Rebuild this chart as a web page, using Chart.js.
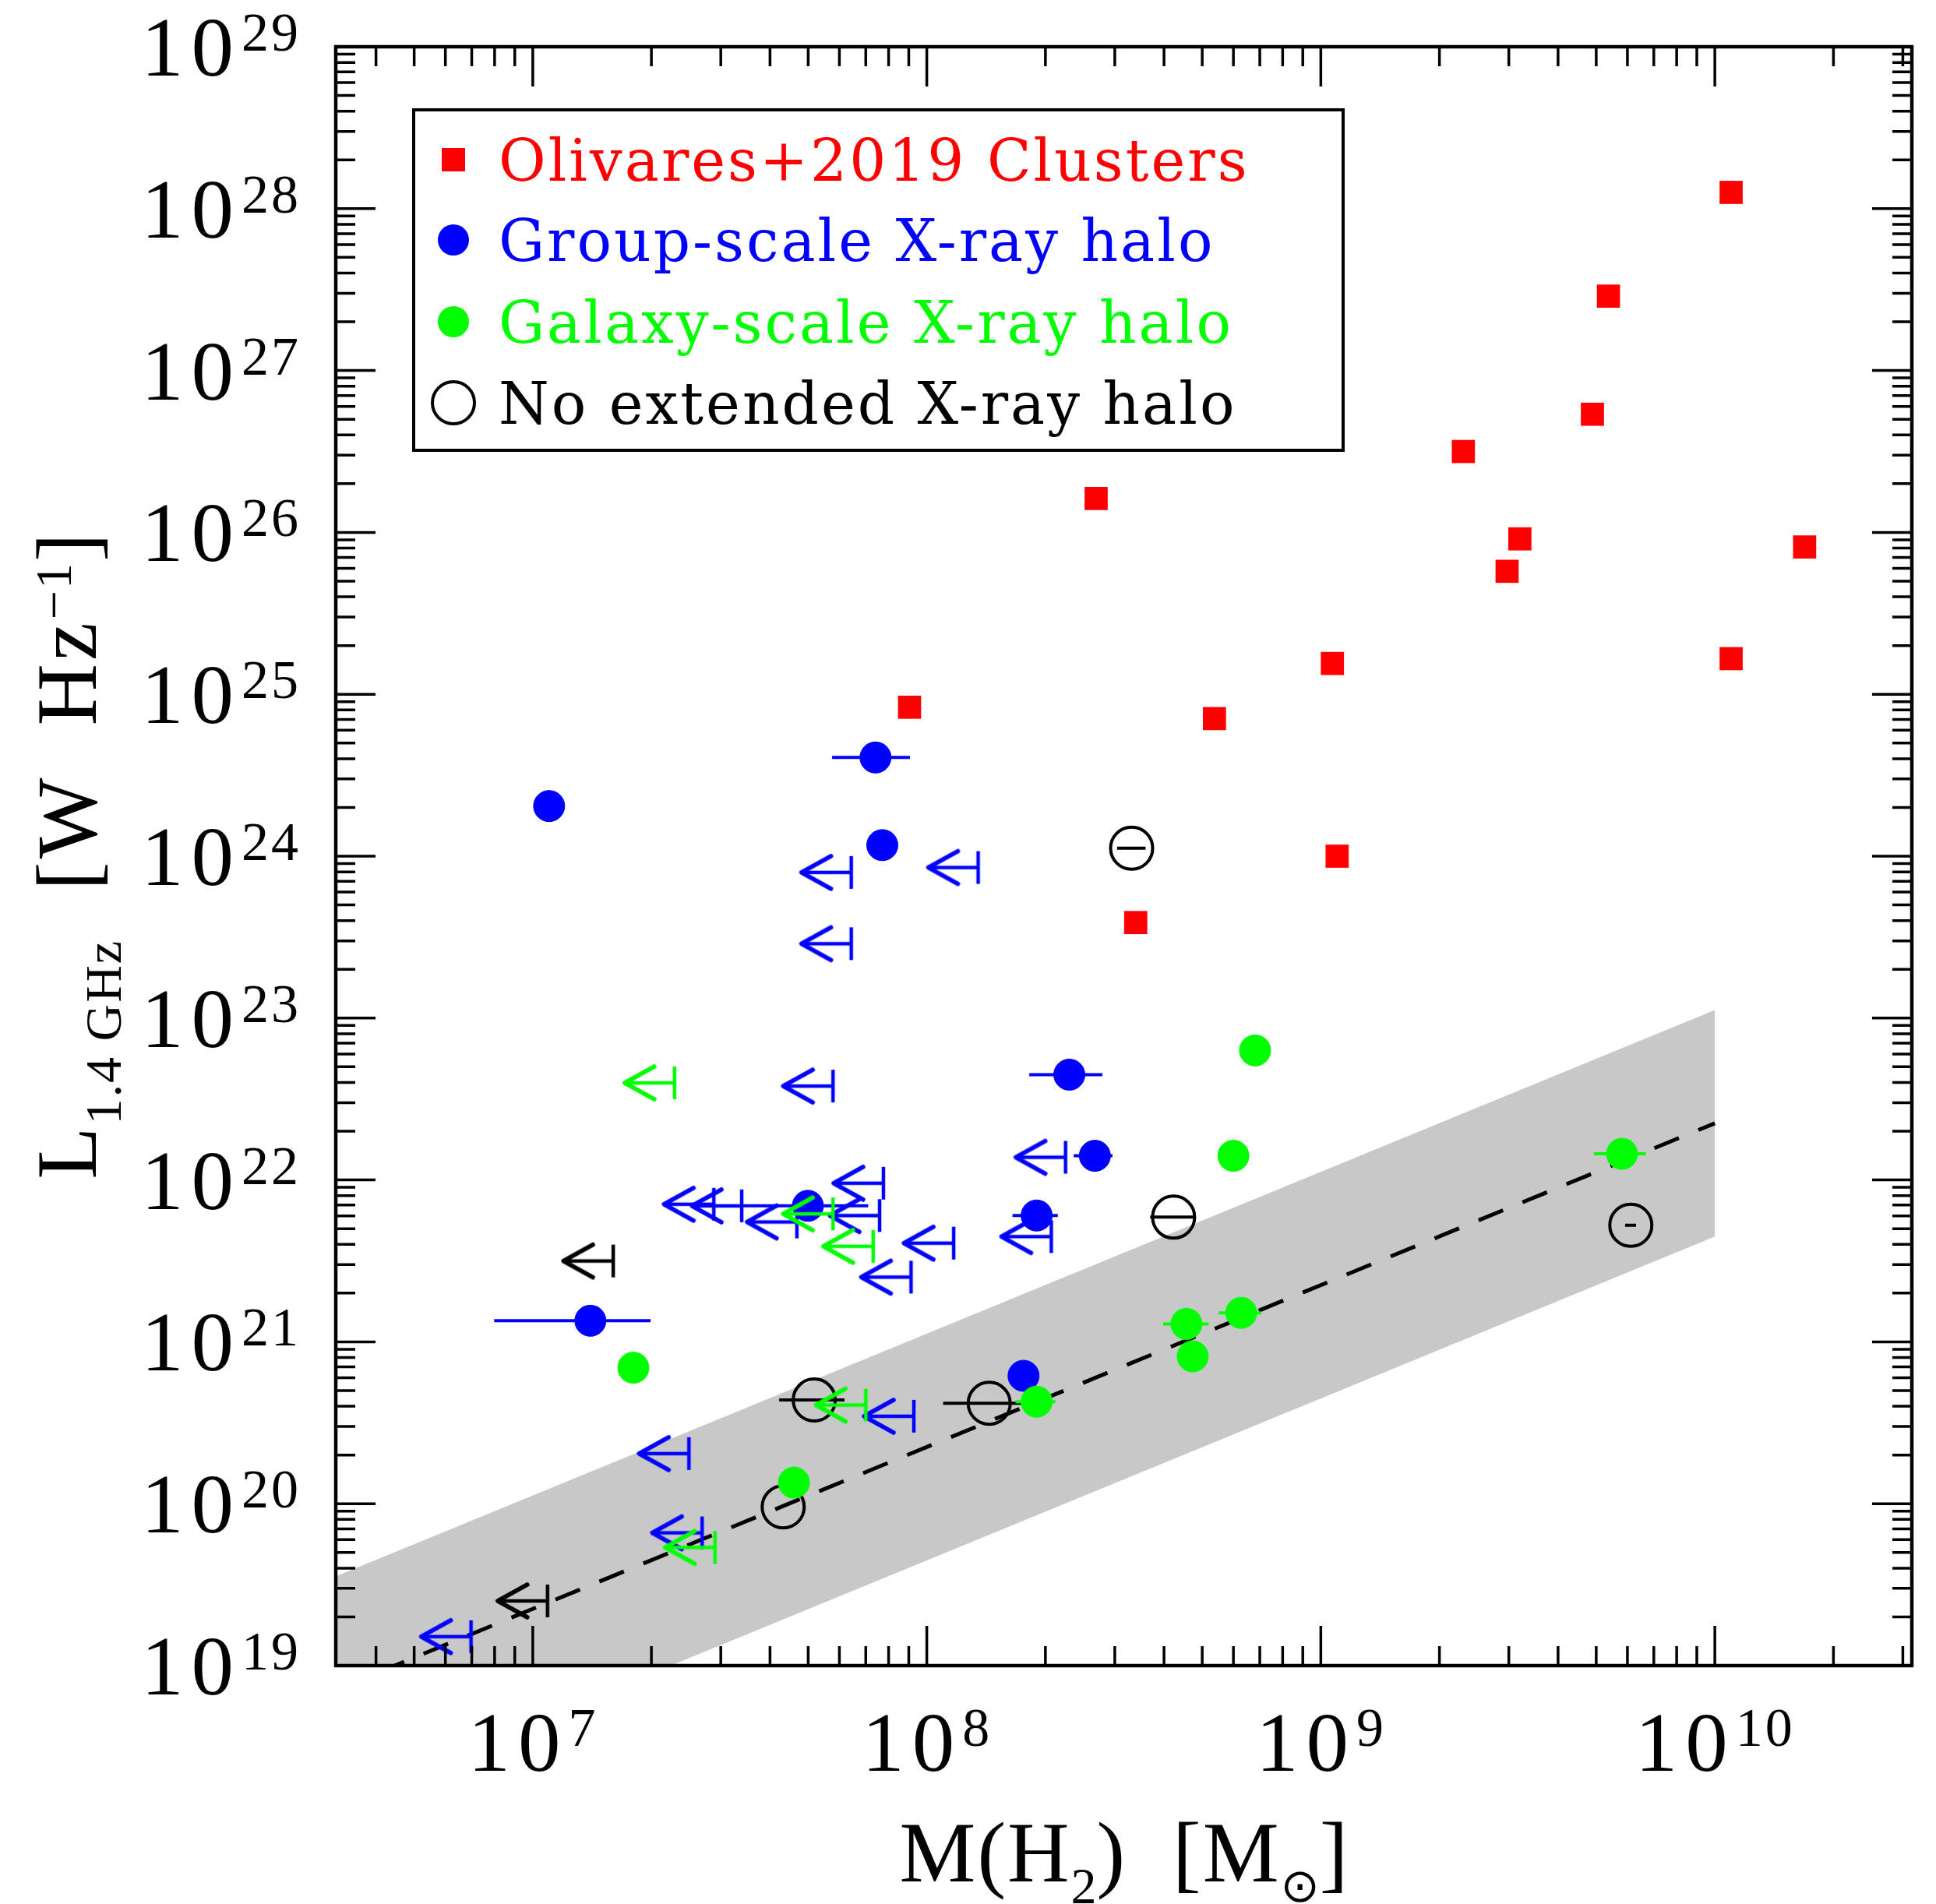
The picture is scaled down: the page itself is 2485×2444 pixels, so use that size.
<!DOCTYPE html>
<html>
<head>
<meta charset="utf-8">
<script src="https://cdn.jsdelivr.net/npm/chart.js@4.4.1/dist/chart.umd.min.js"></script>
<style>
  html, body { margin: 0; padding: 0; background: #fff; }
  #wrap { width: 2485px; height: 2444px; }
</style>
</head>
<body>
<div id="wrap"><canvas id="lumChart" width="2485" height="2444"></canvas></div>
<script>
// Olivares+2019 clusters: M(H2) [Msun], L_1.4GHz [W/Hz]
const clusterMass = [1.10e10, 5.37e9, 4.89e9, 2.30e9, 2.69e8, 3.20e9, 2.97e9, 1.69e10, 1.07e9, 1.10e10, 9.04e7, 5.37e8, 1.10e9, 3.39e8];
const clusterLum  = [1.26e28, 2.88e27, 5.37e26, 3.16e26, 1.62e26, 9.12e25, 5.75e25, 8.13e25, 1.55e25, 1.66e25, 8.32e24, 7.08e24, 1.00e24, 3.89e23];

// group-scale X-ray halo detections (null = no mass error)
const groupMass   = [7.41e7, 1.10e7, 7.71e7, 2.30e8, 2.67e8, 4.99e7, 1.90e8, 1.40e7, 1.76e8];
const groupLum    = [4.07e24, 2.04e24, 1.17e24, 4.47e22, 1.41e22, 6.92e21, 6.03e21, 1.35e21, 6.17e20];
const groupMassLo = [5.75e7, null, null, 1.82e8, 2.36e8, 3.39e7, 1.65e8, 7.98e6, null];
const groupMassHi = [9.06e7, null, null, 2.79e8, 2.96e8, 7.10e7, 2.15e8, 1.99e7, null];
// group-scale upper limits on M(H2)
const groupLimMass = [6.43e7, 1.35e8, 6.43e7, 5.78e7, 2.25e8, 7.76e7, 2.88e7, 3.39e7, 4.68e7, 7.59e7, 1.17e8, 2.07e8, 9.12e7, 9.27e7, 2.49e7, 2.69e7, 6.97e6];
const groupLimLum  = [7.94e23, 8.51e23, 2.88e23, 3.80e22, 1.38e22, 9.55e21, 7.08e21, 6.92e21, 5.50e21, 6.03e21, 4.07e21, 4.47e21, 2.51e21, 3.47e20, 2.04e20, 6.61e19, 1.51e19];

// galaxy-scale X-ray halo
const galaxyMass   = [6.81e8, 6.00e8, 5.81e9, 6.28e8, 4.56e8, 4.73e8, 1.80e7, 1.90e8, 4.60e7];
const galaxyLum    = [6.31e22, 1.41e22, 1.45e22, 1.51e21, 1.29e21, 8.13e20, 6.92e20, 4.27e20, 1.35e20];
const galaxyMassLo = [null, null, 4.93e9, 5.51e8, 3.98e8, null, null, 1.68e8, null];
const galaxyMassHi = [null, null, 6.68e9, 7.06e8, 5.19e8, null, null, 2.12e8, null];
const galaxyLimMass = [2.29e7, 5.78e7, 7.31e7, 7.00e7, 2.90e7];
const galaxyLimLum  = [3.98e22, 6.17e21, 3.89e21, 4.07e20, 5.37e19];

// no extended X-ray halo
const noHaloMass   = [3.31e8, 4.23e8, 6.12e9, 5.18e7, 1.44e8, 4.32e7];
const noHaloLum    = [1.12e24, 5.89e21, 5.25e21, 4.37e20, 4.17e20, 9.55e19];
const noHaloMassLo = [3.04e8, 3.69e8, 5.92e9, 4.22e7, 1.10e8, null];
const noHaloMassHi = [3.59e8, 4.81e8, 6.31e9, 6.18e7, 1.79e8, null];
const noHaloLimMass = [1.60e7, 1.09e7];
const noHaloLimLum  = [3.16e21, 2.51e19];

// fitted relation and its scatter band
const fitMass   = [3.16e6, 1.0e10];
const fitLum    = [7.08e18, 2.24e22];
const fitLumHi  = [3.55e19, 1.12e23];
const fitLumLo  = [1.41e18, 4.47e21];

// axis labels (powers of ten)
const xTickExps = [7, 8, 9, 10];
const yTickExps = [19, 20, 21, 22, 23, 24, 25, 26, 27, 28, 29];

const legendItems = [
    { text: 'Olivares+2019 Clusters', color: '#ff0000', mark: 'square' },
    { text: 'Group-scale X-ray halo', color: '#0000ff', mark: 'dot' },
    { text: 'Galaxy-scale X-ray halo', color: '#00ff00', mark: 'dot' },
    { text: 'No extended X-ray halo', color: '#000000', mark: 'ring' }
];

const SERIF = '"Liberation Serif", "DejaVu Serif", serif';

function pts(xs, ys) {
    return xs.map((v, i) => ({ x: v, y: ys[i] }));
}

// left-pointing upper-limit arrow, bar sits at the point
function limitMarker(color) {
    const c = document.createElement('canvas');
    c.width = 150;
    c.height = 60;
    const g = c.getContext('2d');
    const cx = 75, cy = 30;
    g.strokeStyle = color;
    g.lineWidth = 4.5;
    g.beginPath();
    g.moveTo(cx, cy - 21); g.lineTo(cx, cy + 21);
    g.moveTo(cx, cy); g.lineTo(cx - 62, cy);
    g.stroke();
    g.lineWidth = 5.5;
    g.lineCap = 'round';
    g.lineJoin = 'round';
    g.beginPath();
    g.moveTo(cx - 26, cy - 21); g.lineTo(cx - 64, cy); g.lineTo(cx - 26, cy + 21);
    g.stroke();
    return c;
}

// horizontal error bars, drawn just under each dataset's points
const errorBars = {
    id: 'errorBars',
    beforeDatasetDraw(chart, args) {
        const ds = chart.data.datasets[args.index];
        if (!ds.xLo) return;
        const { ctx, scales: { x, y } } = chart;
        ctx.save();
        ctx.strokeStyle = ds.borderColor;
        ctx.lineWidth = 4;
        ctx.beginPath();
        ds.data.forEach((p, i) => {
            if (ds.xLo[i] == null) return;
            const py = y.getPixelForValue(p.y);
            ctx.moveTo(x.getPixelForValue(ds.xLo[i]), py);
            ctx.lineTo(x.getPixelForValue(ds.xHi[i]), py);
        });
        ctx.stroke();
        ctx.restore();
    }
};

function powWidths(ctx, exp) {
    ctx.font = '109px ' + SERIF;
    ctx.letterSpacing = '10px';
    const w1 = ctx.measureText('10').width;
    ctx.font = '70px ' + SERIF;
    ctx.letterSpacing = '3px';
    const w2 = ctx.measureText(String(exp)).width;
    return [w1, w2];
}

function drawPow(ctx, x0, base, exp) {
    const [w1] = powWidths(ctx, exp);
    ctx.font = '109px ' + SERIF;
    ctx.letterSpacing = '10px';
    ctx.fillText('10', x0, base);
    ctx.font = '70px ' + SERIF;
    ctx.letterSpacing = '3px';
    ctx.fillText(String(exp), x0 + w1, base - 32);
}

function runsWidth(ctx, runs) {
    let w = 0;
    for (const r of runs) {
        ctx.font = r.font;
        ctx.letterSpacing = r.ls || '0px';
        w += ctx.measureText(r.text).width;
    }
    return w;
}

function drawRuns(ctx, runs, x, y) {
    let cx = x;
    for (const r of runs) {
        ctx.font = r.font;
        ctx.letterSpacing = r.ls || '0px';
        ctx.fillText(r.text, cx, y + (r.dy || 0));
        cx += ctx.measureText(r.text).width;
    }
}

// box, inward ticks on all four sides, labels, titles, legend
const framePlugin = {
    id: 'frame',
    afterDatasetsDraw(chart) {
        const { ctx, chartArea: a, scales: { x, y } } = chart;
        ctx.save();
        ctx.strokeStyle = '#000';
        ctx.fillStyle = '#000';
        ctx.lineCap = 'butt';

        ctx.lineWidth = 3.5;
        ctx.beginPath();
        for (let e = 6; e <= 10; e++) {
            for (let m = 1; m <= 9; m++) {
                const v = m * Math.pow(10, e);
                if (v < x.min * 0.999 || v > x.max * 1.001) continue;
                const px = x.getPixelForValue(v);
                const len = m === 1 ? 51 : 25;
                ctx.moveTo(px, a.bottom); ctx.lineTo(px, a.bottom - len);
                ctx.moveTo(px, a.top); ctx.lineTo(px, a.top + len);
            }
        }
        for (let e = 19; e <= 29; e++) {
            for (let m = 1; m <= 9; m++) {
                const v = m * Math.pow(10, e);
                if (v > y.max * 1.001) continue;
                const py = y.getPixelForValue(v);
                const len = m === 1 ? 51 : 25;
                ctx.moveTo(a.left, py); ctx.lineTo(a.left + len, py);
                ctx.moveTo(a.right, py); ctx.lineTo(a.right - len, py);
            }
        }
        ctx.stroke();

        ctx.lineWidth = 4.5;
        ctx.strokeRect(a.left, a.top, a.right - a.left, a.bottom - a.top);

        // tick labels
        ctx.textAlign = 'left';
        ctx.textBaseline = 'alphabetic';
        for (const e of yTickExps) {
            const py = y.getPixelForValue(Math.pow(10, e));
            drawPow(ctx, 181, py + 37, e);
        }
        for (const e of xTickExps) {
            const px = x.getPixelForValue(Math.pow(10, e));
            const [w1, w2] = powWidths(ctx, e);
            drawPow(ctx, px - (w1 + w2) / 2, 2273, e);
        }

        // x title
        const big = '110px ' + SERIF;
        const small = '66px ' + SERIF;
        const xRuns = [
            { text: 'M(H', font: big, ls: '2px' },
            { text: '2', font: small, dy: 28 },
            { text: ')  [M', font: big, ls: '2px' },
            { text: '\u2299', font: '60px "DejaVu Sans", ' + SERIF, dy: 26 },
            { text: ']', font: big }
        ];
        const xw = runsWidth(ctx, xRuns);
        drawRuns(ctx, xRuns, (a.left + a.right) / 2 - xw / 2, 2415);

        // y title, rotated
        const yRuns = [
            { text: 'L', font: big, ls: '3px' },
            { text: '1.4 GHz', font: small, dy: 32, ls: '2px' },
            { text: '  [W  Hz', font: big, ls: '4px' },
            { text: '\u22121', font: small, dy: -32, ls: '2px' },
            { text: ']', font: big }
        ];
        const yw = runsWidth(ctx, yRuns);
        ctx.save();
        ctx.translate(123, (a.top + a.bottom) / 2);
        ctx.rotate(-Math.PI / 2);
        drawRuns(ctx, yRuns, -yw / 2, 0);
        ctx.restore();

        // legend
        ctx.fillStyle = '#fff';
        ctx.fillRect(531, 141, 1193, 437);
        ctx.lineWidth = 4;
        ctx.strokeStyle = '#000';
        ctx.strokeRect(531, 141, 1193, 437);
        const rowY = [205, 308, 413, 517];
        legendItems.forEach((it, i) => {
            const cy = rowY[i];
            ctx.fillStyle = it.color;
            ctx.strokeStyle = it.color;
            if (it.mark === 'square') {
                ctx.fillRect(582 - 15, cy - 15, 30, 30);
            } else if (it.mark === 'dot') {
                ctx.beginPath(); ctx.arc(582, cy, 20, 0, Math.PI * 2); ctx.fill();
            } else {
                ctx.lineWidth = 4;
                ctx.beginPath(); ctx.arc(582, cy, 27, 0, Math.PI * 2); ctx.stroke();
            }
            ctx.font = '74px "DejaVu Serif", serif';
            ctx.letterSpacing = '3px';
            ctx.fillText(it.text, 640, cy + 27);
        });
        ctx.restore();
    }
};

const ctx = document.getElementById('lumChart').getContext('2d');

const lumChart = new Chart(ctx, {
    type: 'scatter',
    data: {
        datasets: [
            {
                label: 'Galaxy-scale X-ray halo',
                data: pts(galaxyMass, galaxyLum),
                xLo: galaxyMassLo, xHi: galaxyMassHi,
                backgroundColor: '#00ff00', borderColor: '#00ff00',
                pointStyle: 'circle', pointRadius: 20, borderWidth: 1,
                order: 1
            },
            {
                label: 'Galaxy-scale limits',
                data: pts(galaxyLimMass, galaxyLimLum),
                pointStyle: limitMarker('#00ff00'), pointRadius: 2,
                order: 1
            },
            {
                label: 'No extended X-ray halo',
                data: pts(noHaloMass, noHaloLum),
                xLo: noHaloMassLo, xHi: noHaloMassHi,
                backgroundColor: 'rgba(0,0,0,0)', borderColor: '#000000',
                pointStyle: 'circle', pointRadius: 27, borderWidth: 4,
                order: 2
            },
            {
                label: 'No halo limits',
                data: pts(noHaloLimMass, noHaloLimLum),
                pointStyle: limitMarker('#000000'), pointRadius: 2,
                order: 2
            },
            {
                label: 'Group-scale X-ray halo',
                data: pts(groupMass, groupLum),
                xLo: groupMassLo, xHi: groupMassHi,
                backgroundColor: '#0000ff', borderColor: '#0000ff',
                pointStyle: 'circle', pointRadius: 20, borderWidth: 1,
                order: 3
            },
            {
                label: 'Group-scale limits',
                data: pts(groupLimMass, groupLimLum),
                pointStyle: limitMarker('#0000ff'), pointRadius: 2,
                order: 3
            },
            {
                label: 'Olivares+2019 Clusters',
                data: pts(clusterMass, clusterLum),
                backgroundColor: '#ff0000', borderColor: '#ff0000',
                pointStyle: 'rect', pointRadius: 21, borderWidth: 0,
                order: 4
            },
            {
                type: 'line',
                label: 'fit',
                data: pts(fitMass, fitLum),
                borderColor: '#000', borderWidth: 5, borderDash: [34, 27],
                pointRadius: 0, fill: false,
                order: 8
            },
            {
                type: 'line',
                label: 'band upper',
                data: pts(fitMass, fitLumHi),
                borderWidth: 0, borderColor: 'rgba(0,0,0,0)',
                backgroundColor: '#c8c8c8',
                pointRadius: 0, fill: '+1',
                order: 9
            },
            {
                type: 'line',
                label: 'band lower',
                data: pts(fitMass, fitLumLo),
                borderWidth: 0, borderColor: 'rgba(0,0,0,0)',
                pointRadius: 0, fill: false,
                order: 9
            }
        ]
    },
    options: {
        responsive: false,
        animation: false,
        devicePixelRatio: 1,
        layout: { padding: { left: 431, right: 24, top: 60, bottom: 306 } },
        scales: {
            x: { type: 'logarithmic', min: Math.pow(10, 6.5), max: Math.pow(10, 10.5), display: false },
            y: { type: 'logarithmic', min: 1e19, max: 1e29, display: false }
        },
        plugins: {
            legend: { display: false },
            tooltip: { enabled: false }
        }
    },
    plugins: [errorBars, framePlugin]
});
</script>
</body>
</html>
